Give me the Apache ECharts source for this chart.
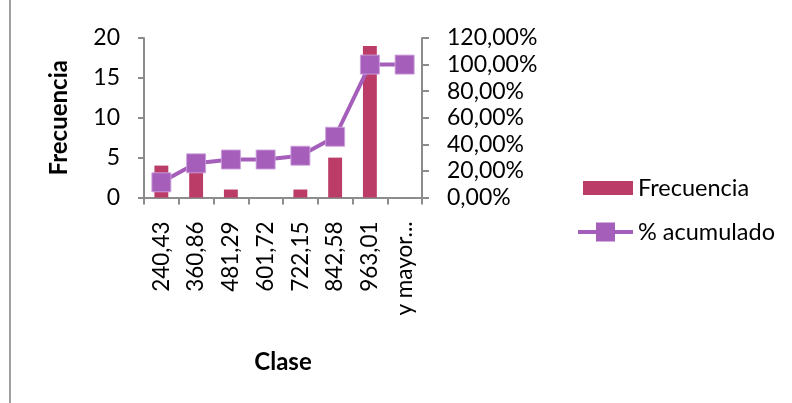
<!DOCTYPE html>
<html>
<head>
<meta charset="utf-8">
<script src="https://cdn.jsdelivr.net/npm/echarts@6/dist/echarts.min.js"></script>
<style>
  html, body { margin: 0; padding: 0; background: #fff; }
  #chart { width: 792px; height: 403px; }
</style>
</head>
<body>
<div id="chart"></div>
<script>
// Histogram classes (upper bounds) and their counts
const clases = ['240,43', '360,86', '481,29', '601,72', '722,15', '842,58', '963,01', 'y mayor...'];
const frecuencia = [4, 5, 1, 0, 1, 5, 19, 0];
// Cumulative percentage per class
const acumulado = [11.43, 25.71, 28.57, 28.57, 31.43, 45.71, 100, 100];
// Tick values for both value axes
const ticksFrecuencia = [0, 5, 10, 15, 20];
const ticksPorcentaje = [0, 20, 40, 60, 80, 100, 120];

const FONT = 'Lato';
const AXIS_GRAY = '#8c8c8c';
const BAR_COLOR = '#bb3d67';
const LINE_COLOR = '#a55eb9';

const chart = echarts.init(document.getElementById('chart'), null, { renderer: 'canvas' });

const pct = v => v.toFixed(2).replace('.', ',') + '%';

chart.setOption({
  animation: false,
  backgroundColor: '#fff',
  textStyle: { fontFamily: FONT, color: '#000' },
  grid: { left: 144, right: 370, top: 38, bottom: 205.5, containLabel: false },
  graphic: [{
    type: 'line',
    shape: { x1: 10, y1: 0, x2: 10, y2: 403 },
    style: { stroke: '#a0a0a0', lineWidth: 2 }
  }],
  legend: [{
    data: ['Frecuencia'],
    orient: 'vertical',
    left: 578, top: 171,
    itemWidth: 50, itemHeight: 14,
    icon: 'rect',
    textStyle: { fontFamily: FONT, fontSize: 23.5, color: '#000' }
  }, {
    data: ['% acumulado'],
    orient: 'vertical',
    left: 573, top: 215,
    itemWidth: 55, itemHeight: 19,
    icon: 'path://M0,7.5 L18,7.5 L18,0 L37,0 L37,7.5 L55,7.5 L55,11.5 L37,11.5 L37,19 L18,19 L18,11.5 L0,11.5 Z',
    itemStyle: { color: LINE_COLOR, borderWidth: 0 },
    lineStyle: { width: 0 },
    textStyle: { fontFamily: FONT, fontSize: 23.5, color: '#000' }
  }],
  xAxis: {
    type: 'category',
    data: clases,
    boundaryGap: true,
    name: 'Clase',
    nameLocation: 'middle',
    nameGap: 153,
    nameTextStyle: { fontFamily: FONT, fontSize: 24, fontWeight: 'bold', color: '#000' },
    axisLine: { lineStyle: { color: AXIS_GRAY, width: 2 } },
    axisTick: { show: true, alignWithLabel: false, length: 7, lineStyle: { color: AXIS_GRAY, width: 2 } },
    axisLabel: { rotate: 90, margin: 24, interval: 0, fontFamily: FONT, fontSize: 22.5, color: '#000' },
    splitLine: { show: false }
  },
  yAxis: [{
    type: 'value',
    min: ticksFrecuencia[0],
    max: ticksFrecuencia[ticksFrecuencia.length - 1],
    interval: ticksFrecuencia[1] - ticksFrecuencia[0],
    name: 'Frecuencia',
    nameLocation: 'middle',
    nameGap: 73,
    nameTextStyle: { fontFamily: FONT, fontSize: 24, fontWeight: 'bold', color: '#000' },
    axisLine: { show: true, lineStyle: { color: AXIS_GRAY, width: 2 } },
    axisTick: { show: true, length: 6, lineStyle: { color: AXIS_GRAY, width: 2 } },
    axisLabel: { margin: 24, fontFamily: FONT, fontSize: 23, color: '#000' },
    splitLine: { show: false }
  }, {
    type: 'value',
    position: 'right',
    min: ticksPorcentaje[0],
    max: ticksPorcentaje[ticksPorcentaje.length - 1],
    interval: ticksPorcentaje[1] - ticksPorcentaje[0],
    axisLine: { show: true, lineStyle: { color: AXIS_GRAY, width: 2 } },
    axisTick: { show: true, length: 7, lineStyle: { color: AXIS_GRAY, width: 2 } },
    axisLabel: { margin: 25, fontFamily: FONT, fontSize: 23, color: '#000', formatter: pct },
    splitLine: { show: false }
  }],
  series: [{
    name: 'Frecuencia',
    type: 'bar',
    data: frecuencia,
    barWidth: '40%',
    itemStyle: { color: BAR_COLOR }
  }, {
    name: '% acumulado',
    type: 'line',
    yAxisIndex: 1,
    data: acumulado,
    symbol: 'rect',
    symbolSize: 19,
    lineStyle: { color: LINE_COLOR, width: 4 },
    itemStyle: { color: LINE_COLOR, borderColor: 'rgba(205,160,222,0.9)', borderWidth: 1 }
  }]
});
</script>
</body>
</html>
